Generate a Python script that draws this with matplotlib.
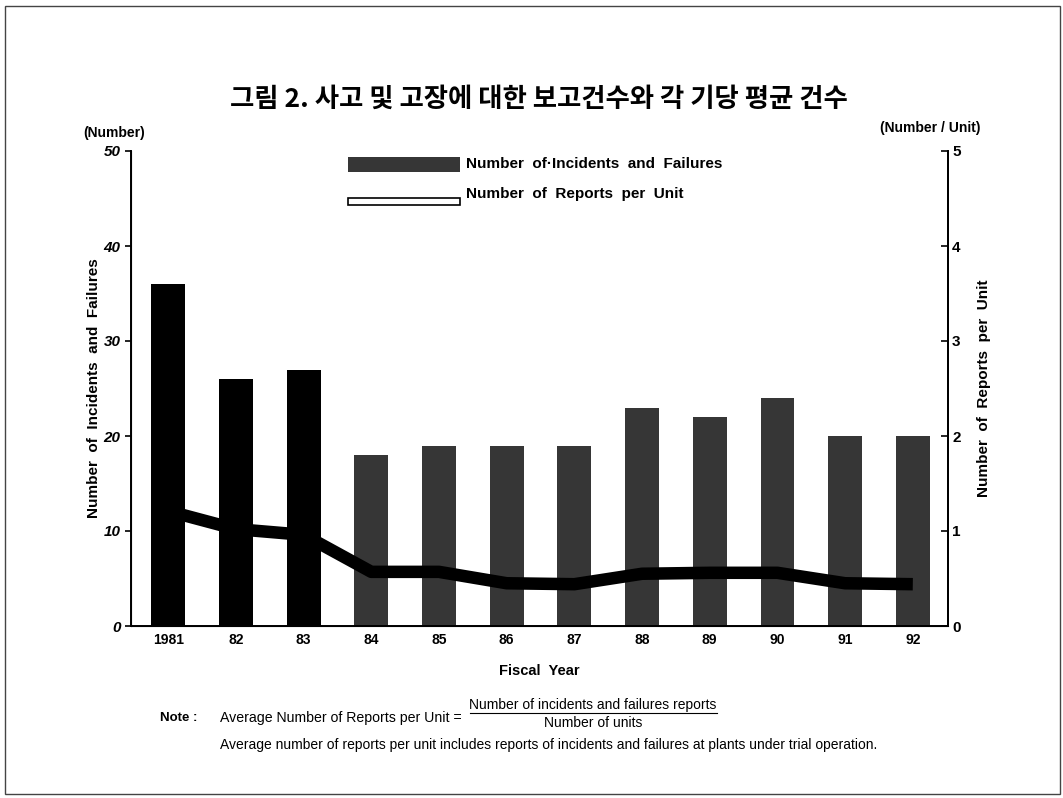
import matplotlib.pyplot as plt
from matplotlib.patches import Rectangle

plt.rcParams['font.family'] = ['Liberation Sans', 'DejaVu Sans']

# Data
years = ['1981', '82', '83', '84', '85', '86', '87', '88', '89', '90', '91', '92']
incidents = [36, 26, 27, 18, 19, 19, 19, 23, 22, 24, 20, 20]
reports_per_unit = [1.21, 1.02, 0.96, 0.57, 0.57, 0.45, 0.44, 0.55, 0.56, 0.56, 0.45, 0.44]
bar_colors = ['black'] * 3 + ['#363636'] * 9

title = '그림 2. 사고 및 고장에 대한 보고건수와 각 기당 평균 건수'

W, H = 1063, 798
fig = plt.figure(figsize=(W / 100, H / 100), dpi=100)


def fx(px):
    return px / W


def fy(py):
    return 1 - py / H


ax = fig.add_axes([fx(131), fy(626), fx(948) - fx(131), fy(151) - fy(626)])
x = list(range(len(years)))
ax.bar(x, incidents, width=0.5, color=bar_colors, zorder=2)
ax.set_xlim(-0.55, 11.52)
ax.set_ylim(0, 50)
ax.set_yticks([0, 10, 20, 30, 40, 50])
ax.set_xticks(x)
ax.set_xticklabels(years, fontsize=10, fontweight='bold')
ax.tick_params(axis='y', direction='out', length=4, width=1.2, labelsize=11)
ax.tick_params(axis='x', length=0, pad=5)
for lab in ax.get_yticklabels():
    lab.set_fontweight('bold')
    lab.set_fontstyle('italic')
ax.spines['top'].set_visible(False)
for s in ['left', 'bottom', 'right']:
    ax.spines[s].set_linewidth(1.4)
ax.set_xlabel('Fiscal  Year', fontsize=10.5, fontweight='bold', labelpad=12)
ax.set_ylabel('Number  of  Incidents  and  Failures', fontsize=11, fontweight='bold', labelpad=2)

ax2 = ax.twinx()
ax2.plot(x, reports_per_unit, color='black', lw=9, solid_joinstyle='round',
         solid_capstyle='butt', zorder=5)
ax2.set_ylim(0, 5)
ax2.set_yticks([0, 1, 2, 3, 4, 5])
ax2.tick_params(axis='y', direction='in', length=5, width=1.2, labelsize=11, pad=3)
for lab in ax2.get_yticklabels():
    lab.set_fontweight('bold')
ax2.spines['top'].set_visible(False)
ax2.spines['right'].set_linewidth(1.4)
ax2.set_ylabel('Number  of  Reports  per  Unit', fontsize=11, fontweight='bold', labelpad=12)

# Title and unit labels
fig.text(fx(539), fy(99), title, ha='center', va='center', fontsize=19,
         fontweight='bold', family=['Noto Sans CJK KR', 'DejaVu Sans'])
fig.text(fx(83), fy(133), '(Number)', ha='left', va='center', fontsize=10, fontweight='bold')
fig.text(fx(980), fy(128), '(Number / Unit)', ha='right', va='center', fontsize=10, fontweight='bold')

# Legend
fig.patches.append(Rectangle((fx(348), fy(172)), fx(460) - fx(348), fy(157) - fy(172),
                             transform=fig.transFigure, facecolor='#363636', edgecolor='none'))
fig.patches.append(Rectangle((fx(348), fy(205)), fx(460) - fx(348), fy(198) - fy(205),
                             transform=fig.transFigure, facecolor='white', edgecolor='black', lw=1.2))
fig.text(fx(466), fy(164), 'Number  of·Incidents  and  Failures', ha='left', va='center',
         fontsize=11, fontweight='bold')
fig.text(fx(466), fy(194), 'Number  of  Reports  per  Unit', ha='left', va='center',
         fontsize=11, fontweight='bold')

# Notes
fig.text(fx(160), fy(718), 'Note :', ha='left', va='center', fontsize=9.5, fontweight='bold')
fig.text(fx(220), fy(718), 'Average Number of Reports per Unit =', ha='left', va='center', fontsize=10.2)
fig.text(fx(593), fy(705), 'Number of incidents and failures reports', ha='center', va='center', fontsize=10)
fig.lines.append(plt.Line2D([fx(470), fx(717)], [fy(713), fy(713)], transform=fig.transFigure,
                            color='black', lw=0.8))
fig.text(fx(593), fy(723), 'Number of units', ha='center', va='center', fontsize=10)
fig.text(fx(220), fy(745), 'Average number of reports per unit includes reports of incidents '
         'and failures at plants under trial operation.', ha='left', va='center', fontsize=10)

# Outer frame
fig.patches.append(Rectangle((fx(5), fy(794)), fx(1060) - fx(5), fy(6) - fy(794),
                             transform=fig.transFigure, facecolor='none', edgecolor='#444444', lw=1))

fig.savefig('out.png', dpi=100)
